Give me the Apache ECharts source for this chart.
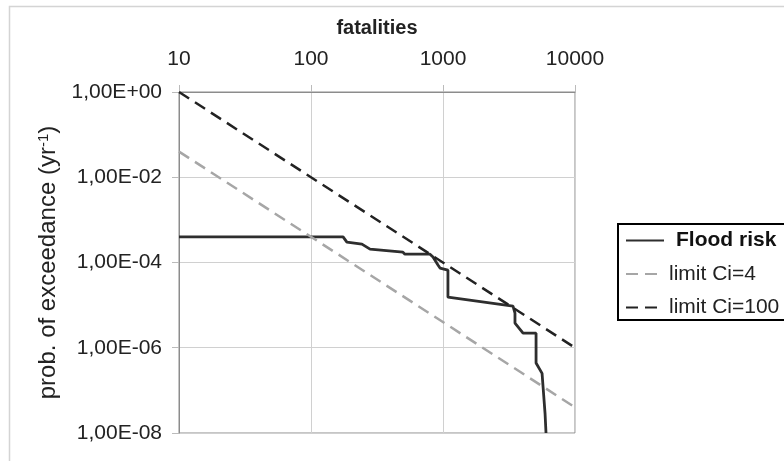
<!DOCTYPE html>
<html>
<head>
  <meta charset="utf-8">
</head>
<body style="margin: 0">
  <div id="container" style="width: 784px; height: 461px"></div>
  <script src="https://fastly.jsdelivr.net/npm/echarts@6.0.0/dist/echarts.min.js"></script>
  <script>
    // flood risk FN curve (fatalities vs prob. of exceedance)
    var riskN = [10, 175, 187, 243, 280, 497, 515, 797, 840, 916, 949, 1090, 1090, 3390, 3510, 3510, 4040, 5070, 5070, 5630, 5730, 5930, 6030];
    var riskP = [4e-4, 4e-4, 3.0e-4, 2.7e-4, 2.06e-4, 1.75e-4, 1.57e-4, 1.57e-4, 1.34e-4, 8.7e-5, 7.4e-5, 6.6e-5, 1.54e-5, 9.5e-6, 6.5e-6, 3.8e-6, 2.2e-6, 2.2e-6, 4.4e-7, 2.5e-7, 1.2e-7, 2.9e-8, 1e-8];
    // limit lines
    var limitN = [10, 10000];
    var limit4 = [0.04, 4e-8];
    var limit100 = [1, 1e-6];

    function pairs(xs, ys) {
      return xs.map(function (x, i) { return [x, ys[i]]; });
    }

    var font = 'Liberation Sans, Arial, sans-serif';
    var myChart = echarts.init(document.getElementById('container'), null, { renderer: 'canvas' });

    var option = {
      backgroundColor: '#fff',
      animation: false,
      textStyle: { fontFamily: font },
      graphic: [
        {
          // outer chart frame
          type: 'rect',
          shape: { x: 9.5, y: 6.5, width: 800, height: 500 },
          style: { fill: 'none', stroke: '#d4d4d4', lineWidth: 1.5 },
          silent: true
        },
        {
          // legend box (runs off the right edge like the original)
          type: 'rect',
          shape: { x: 618, y: 224, width: 200, height: 96 },
          style: { fill: '#fff', stroke: '#000', lineWidth: 2 },
          silent: true, z: 1
        }
      ],
      grid: {
        left: 179, right: 209, top: 92, bottom: 28,
        show: true, borderColor: '#8c8c8c', borderWidth: 1
      },
      legend: {
        orient: 'vertical',
        left: 618, top: 224,
        padding: [6, 10, 6, 7],
        itemWidth: 38, itemHeight: 20, itemGap: 12.5,
        itemStyle: { opacity: 0 },
        textStyle: { fontSize: 21, color: '#222', fontFamily: font },
        z: 5,
        data: [
          { name: 'Flood risk', textStyle: { fontWeight: 'bold', color: '#111', padding: [0, 0, 0, 7] } },
          { name: 'limit Ci=4' },
          { name: 'limit Ci=100' }
        ]
      },
      xAxis: {
        type: 'log', position: 'top',
        min: 10, max: 10000, logBase: 10,
        name: 'fatalities', nameLocation: 'middle', nameGap: 54,
        nameTextStyle: { fontSize: 20, fontWeight: 'bold', color: '#222' },
        axisLine: { lineStyle: { color: '#8c8c8c' } },
        axisTick: { show: true, length: 7, lineStyle: { color: '#bbb' } },
        axisLabel: {
          fontSize: 21, color: '#222', margin: 22,
          formatter: function (v) { return String(Math.round(v)); }
        },
        splitLine: { show: true, lineStyle: { color: '#d0d0d0' } }
      },
      yAxis: {
        type: 'log', min: 1e-8, max: 1, logBase: 10, interval: 2,
        name: '{a|prob. of exceedance (yr}{s|-1}{a|)}',
        nameLocation: 'middle', nameGap: 116, nameRotate: 90,
        nameTextStyle: {
          rich: {
            a: { fontSize: 24, color: '#222', fontFamily: font },
            s: { fontSize: 15, color: '#222', fontFamily: font, verticalAlign: 'top', padding: [0, 0, 10, 0] }
          }
        },
        axisLine: { lineStyle: { color: '#8c8c8c' } },
        axisTick: { show: true, length: 7, lineStyle: { color: '#bbb' } },
        axisLabel: {
          fontSize: 21, color: '#222', margin: 17,
          formatter: function (v) {
            var e = Math.round(Math.log10(v));
            return '1,00E' + (e < 0 ? '-' : '+') + String(Math.abs(e)).padStart(2, '0');
          }
        },
        splitLine: { show: true, lineStyle: { color: '#d0d0d0' } }
      },
      series: [
        {
          name: 'Flood risk', type: 'line', symbol: 'none',
          data: pairs(riskN, riskP),
          lineStyle: { color: '#2e2e2e', width: 2.8 },
          itemStyle: { color: '#2e2e2e' },
          z: 3
        },
        {
          name: 'limit Ci=4', type: 'line', symbol: 'none',
          data: pairs(limitN, limit4),
          lineStyle: { color: '#a6a6a6', width: 2.5, type: [12, 7] },
          itemStyle: { color: '#a6a6a6' }
        },
        {
          name: 'limit Ci=100', type: 'line', symbol: 'none',
          data: pairs(limitN, limit100),
          lineStyle: { color: '#222', width: 2.5, type: [12, 7] },
          itemStyle: { color: '#222' }
        }
      ]
    };

    myChart.setOption(option);
  </script>
</body>
</html>
